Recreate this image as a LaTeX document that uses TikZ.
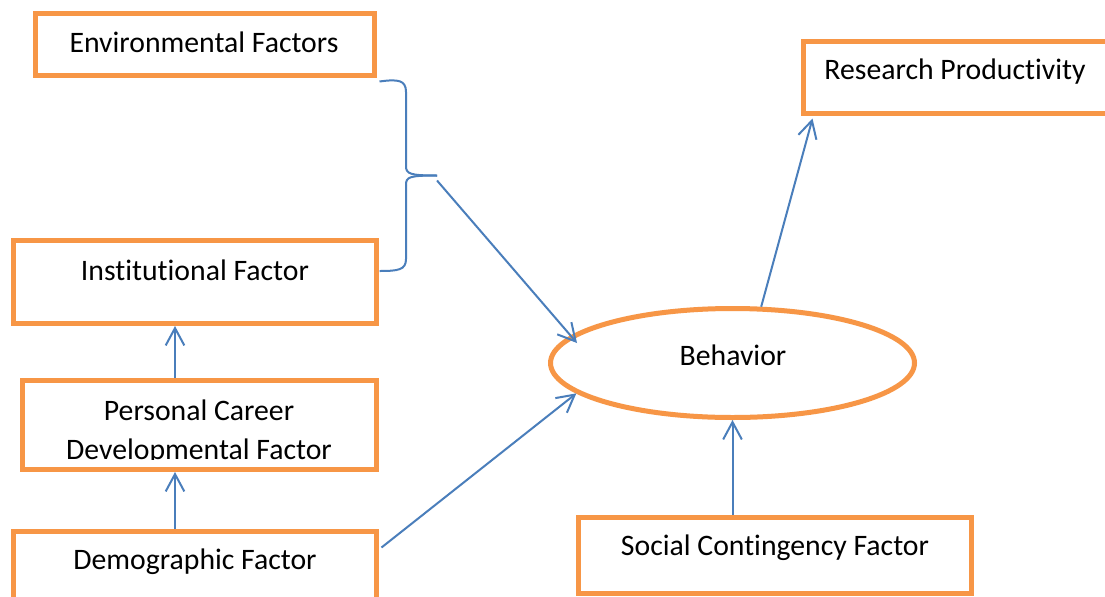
\documentclass[tikz,border=0pt]{standalone}
\usepackage{fontspec}
\setmainfont[Ligatures=CommonOff]{Carlito}
\usetikzlibrary{arrows.meta,shapes.geometric,calc}
\definecolor{boxorange}{HTML}{F79646}
\definecolor{linkblue}{HTML}{4A7EBB}
\begin{document}
\begin{tikzpicture}[x=0.75pt,y=-0.75pt,
  factorbox/.style={draw=boxorange,line width=3.75pt,rectangle,inner sep=0pt},
  label/.style={font=\fontsize{22.3}{26}\selectfont,inner sep=0pt,text=black},
  link/.style={draw=linkblue,line width=1.5pt,-{Straight Barb[length=13pt,width=14pt,line width=1.5pt]}},
  brace/.style={draw=linkblue,line width=1.5pt}]
\useasboundingbox (0,0) rectangle (1105,596);
\fill[white] (0,0) rectangle (1105,596);

% factor boxes
\node[factorbox,minimum width=339*0.75pt,minimum height=62*0.75pt] (env) at (205,44.5) {};
\node[factorbox,minimum width=330*0.75pt,minimum height=72*0.75pt] (res) at (968.5,77.5) {};
\node[factorbox,minimum width=363*0.75pt,minimum height=83*0.75pt] (inst) at (195,282) {};
\node[factorbox,minimum width=354*0.75pt,minimum height=89*0.75pt] (pers) at (199.5,425) {};
\node[factorbox,minimum width=363*0.75pt,minimum height=70*0.75pt] (demo) at (195,566.5) {};
\node[factorbox,minimum width=393*0.75pt,minimum height=75.5*0.75pt] (soc) at (775,555.25) {};
\node[draw=boxorange,line width=3.75pt,ellipse,inner sep=0pt,minimum width=364*0.75pt,minimum height=109*0.75pt] (beh) at (732.5,363) {};

% labels
\node[label] (envt) at (204,42) {Environmental Factors};
\node[label] (rest) at (955,72) {Research Productivity};
\node[label] (instt) at (195,270) {Institutional Factor};
\begin{scope}
  \clip (24,383) rectangle (376,459);
  \node[label] (perst1) at (199,410) {Personal Career};
  \node[label] (perst2) at (199,452) {Developmental Factor};
\end{scope}
\node[label] (demot) at (195,562) {Demographic Factor};
\node[label] (soct) at (775,548) {Social Contingency Factor};
\node[label] (beht) at (733,355) {Behavior};

% brace grouping the environmental and institutional factors
\coordinate (btop) at ($(env.south east)+(2.5,3.5)$);
\coordinate (bbot) at ($(inst.east)+(0.5,-11)$);
\coordinate (tip) at (437,175.5);
\draw[brace] (btop) .. controls (398,79) and (406,80) .. (406,92)
  -- (406,166) .. controls (406,174) and (410,175.5) .. (tip);
\draw[brace] (406,185) .. controls (406,177) and (409,175.5) .. (tip);
\draw[brace] (406,185) -- (406,259) .. controls (406,270) and (398,271) .. (bbot);

% connectors
\coordinate (colx) at (175,0);
\draw[link] (pers.north -| colx) -- (inst.south -| colx);
\draw[link] (demo.north -| colx) -- (pers.south -| colx);
\draw[link] (beh.south |- soc.north) -- (beh.south);
\coordinate (demoout) at ($(demo.north east)+(2.5,18.5)$);
\draw[link] (demoout) -- (beh.191);
\coordinate (bracein) at ($(tip)+(0,5)$);
\coordinate (behin) at ($(beh.center)+(-155.5,-20)$);
\draw[link] (bracein) -- (behin);
\coordinate (resin) at ($(res.south west)+(11.5,2.5)$);
\draw[link] (beh.63.8) -- (resin);
\end{tikzpicture}
\end{document}
